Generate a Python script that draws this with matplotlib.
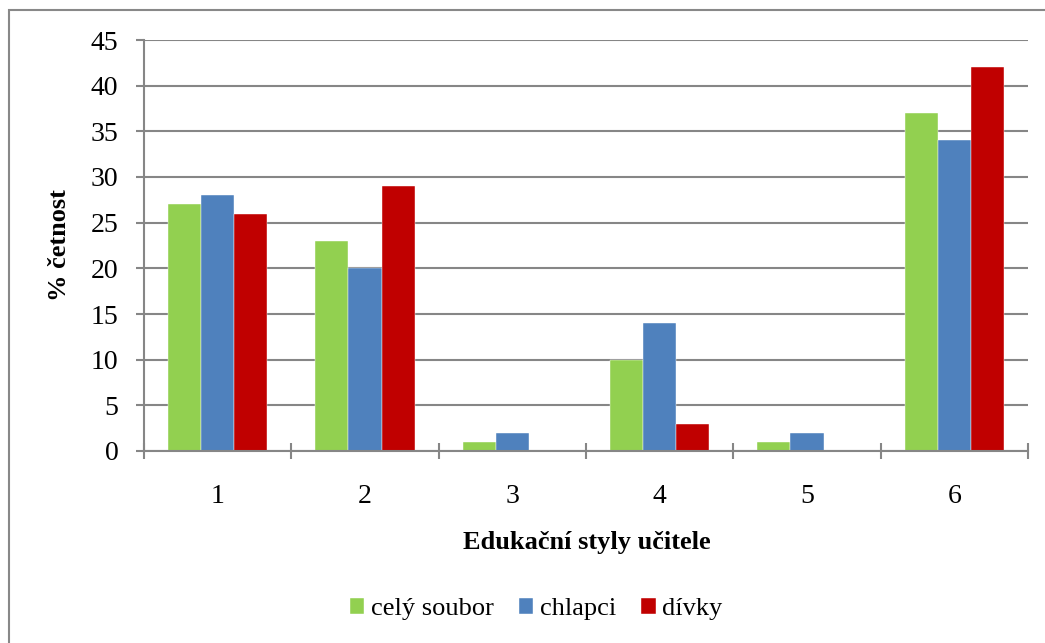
import numpy as np
import matplotlib.pyplot as plt
from matplotlib.patches import Rectangle

plt.rcParams['font.family'] = ['Liberation Serif', 'DejaVu Serif']

# Edukační styly 1-6, percentage frequency per group
categories = ['1', '2', '3', '4', '5', '6']
cely_soubor = [27, 23, 1, 10, 1, 37]
chlapci = [28, 20, 2, 14, 2, 34]
divky = [26, 29, 0, 3, 0, 42]

series = [
    ('celý soubor', cely_soubor, '#92D050'),
    ('chlapci', chlapci, '#4F81BD'),
    ('dívky', divky, '#C00000'),
]

fig = plt.figure(figsize=(10.45, 6.43), dpi=100)
ax = fig.add_axes([144 / 1045, 1 - 451 / 643, (1028 - 144) / 1045, (451 - 40) / 643])

x = np.arange(len(categories))
w = 0.225
for i, (name, vals, col) in enumerate(series):
    ax.bar(x + (i - 1) * w, vals, w, color=col, label=name, zorder=3,
           edgecolor='white', linewidth=0.3)

ax.set_xlim(-0.5, len(categories) - 0.5)
ax.set_ylim(0, 45)
ax.set_yticks(range(0, 46, 5))
ax.yaxis.grid(True, color='#868686', linewidth=1.5, zorder=0)

# category boundaries carry the tick marks, labels sit at the centres
ax.set_xticks(np.arange(-0.5, len(categories), 1.0))
ax.set_xticklabels([])
ax.set_xticks(x, minor=True)
ax.set_xticklabels(categories, minor=True)
ax.tick_params(axis='x', which='major', direction='inout', length=12, width=1.5, color='#868686')
ax.tick_params(axis='x', which='minor', length=0, pad=24, labelsize=20)
ax.tick_params(axis='y', direction='out', length=5.5, width=1.5, color='#868686', labelsize=20, pad=13)

for s in ['top', 'right']:
    ax.spines[s].set_visible(False)
for s in ['left', 'bottom']:
    ax.spines[s].set_color('#868686')
    ax.spines[s].set_linewidth(1.5)
    ax.spines[s].set_zorder(4)

fig.text(587 / 1045, 1 - 543 / 643, 'Edukační styly učitele', ha='center', va='center',
         fontsize=19, fontweight='bold')
fig.text(60 / 1045, 1 - 245 / 643, '% četnost', ha='center', va='center',
         rotation=90, fontsize=19, fontweight='bold')

fig.legend(loc='center', bbox_to_anchor=(536 / 1045, 1 - 609 / 643), ncol=3,
           frameon=False, fontsize=19, handlelength=0.55, handleheight=0.55,
           handletextpad=0.25, columnspacing=0.95)

# outer chart frame
fig.patches.append(Rectangle((9 / 1045, -0.05), 1.2, 1 - 10 / 643 + 0.05,
                             transform=fig.transFigure, fill=False,
                             edgecolor='#888888', linewidth=1.5))

fig.savefig('out.png', dpi=100)
